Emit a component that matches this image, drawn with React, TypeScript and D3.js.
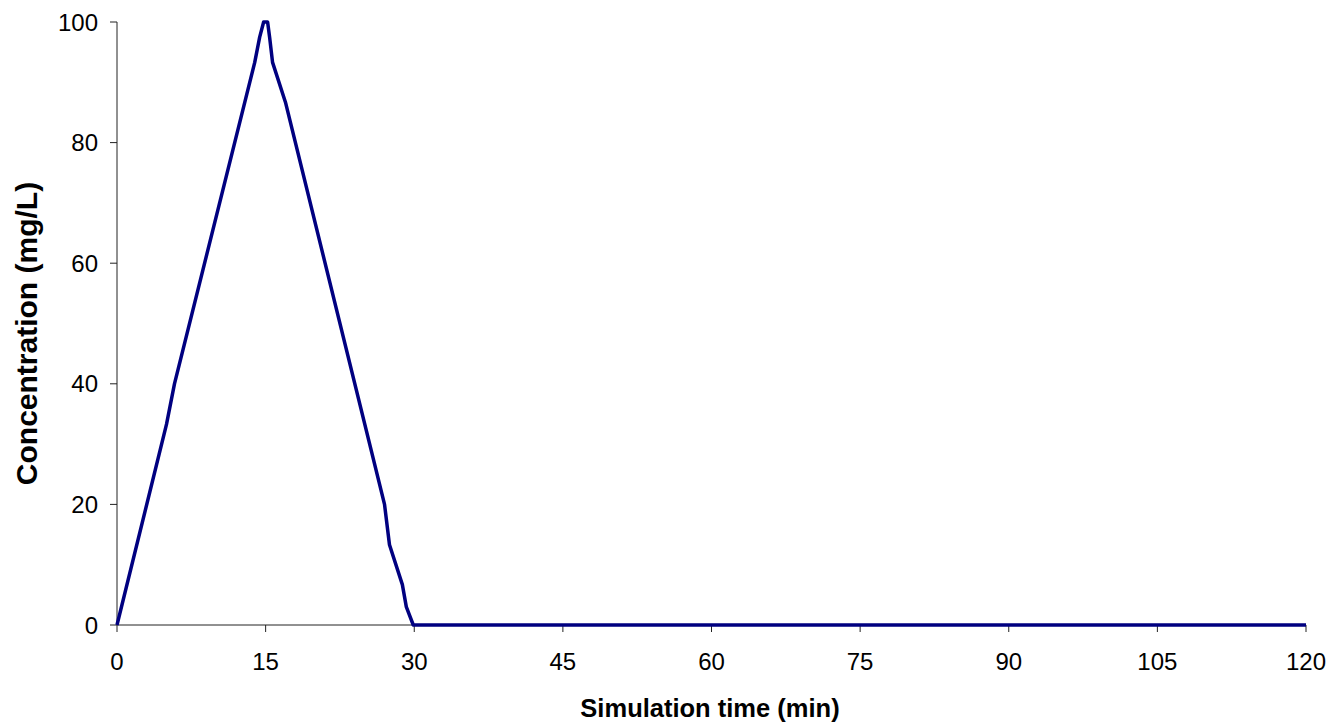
import React from 'react';
import * as d3 from 'd3';

// simulation time (min) and concentration (mg/L)
const timeMin = [0, 5, 5.8, 13.9, 14.4, 14.8, 15.2, 15.4, 15.7, 17, 27, 27.5, 28.8, 29.2, 29.9, 120];
const concMgL = [0, 33.3, 40, 93.3, 97.5, 100, 100, 97.5, 93.3, 86.7, 20, 13.3, 6.7, 3, 0, 0];
const xTicks = [0, 15, 30, 45, 60, 75, 90, 105, 120];
const yTicks = [0, 20, 40, 60, 80, 100];

const W = 1333;
const H = 724;
const margin = { left: 117, right: 27, top: 22, bottom: 99 };

const App = () => {
  const x = d3.scaleLinear().domain([0, 120]).range([margin.left, W - margin.right]);
  const y = d3.scaleLinear().domain([0, 100]).range([H - margin.bottom, margin.top]);

  const line = d3.line<number>()
    .x(i => x(timeMin[i]))
    .y(i => y(concMgL[i]));
  const path = line(timeMin.map((_, i) => i));

  const font = 'Liberation Sans, Arial, sans-serif';
  const y0 = y(0);
  const x0 = x(0);

  return (
    <svg width={W} height={H} style={{ position: 'absolute', left: 0, top: 0, background: '#fff' }} fontFamily={font}>
      {/* y axis */}
      <line x1={x0} x2={x0} y1={y(100)} y2={y0} stroke="#222" strokeWidth={1} />
      {yTicks.map(t => (
        <g key={`y${t}`}>
          <line x1={x0 - 7} x2={x0} y1={y(t)} y2={y(t)} stroke="#222" />
          <text x={x0 - 19} y={y(t)} dy="0.36em" textAnchor="end" fontSize={24}>{t}</text>
        </g>
      ))}
      {/* x axis */}
      <line x1={x0} x2={x(120)} y1={y0} y2={y0} stroke="#222" strokeWidth={1} />
      {xTicks.map(t => (
        <g key={`x${t}`}>
          <line x1={x(t)} x2={x(t)} y1={y0} y2={y0 + 7} stroke="#222" />
          <text x={x(t)} y={y0 + 45} textAnchor="middle" fontSize={24}>{t}</text>
        </g>
      ))}
      <path d={path ?? ''} fill="none" stroke="#000080" strokeWidth={3.5} strokeLinejoin="round" />
      <text x={710} y={717} textAnchor="middle" fontSize={25.5} fontWeight="bold">Simulation time (min)</text>
      <text transform={`translate(37,${(y(0) + y(100)) / 2 + 10}) rotate(-90)`} textAnchor="middle" fontSize={30} fontWeight="bold">Concentration (mg/L)</text>
    </svg>
  );
};

export default App;
